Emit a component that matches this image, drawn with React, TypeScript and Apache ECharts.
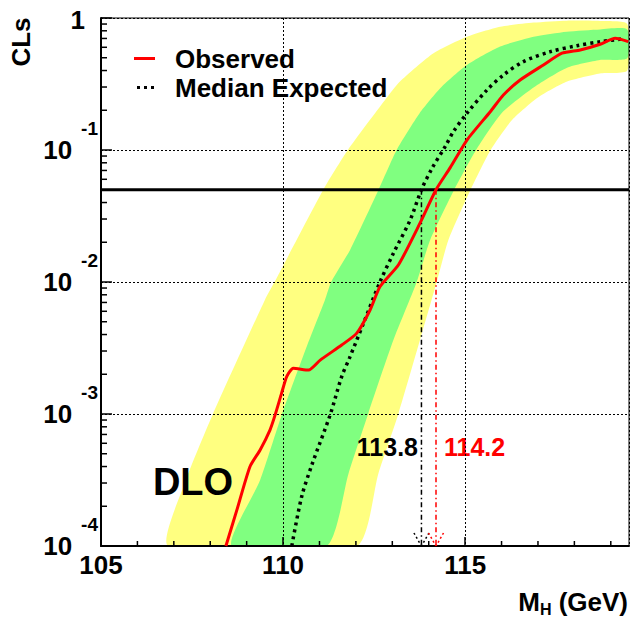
import React, { useEffect, useRef } from 'react';
import * as echarts from 'echarts';

const FONT = '"Liberation Sans", Arial, Helvetica, sans-serif';

// ---- data (x = M_H in GeV, y = CLs) ----
const observed: number[][] = [
  [108.43, 1.0e-4], [108.73, 1.87e-4], [109.09, 3.99e-4], [109.37, 5.34e-4], [109.64, 7.56e-4],
  [109.78, 9.8e-4], [109.96, 1.44e-3], [110.10, 1.92e-3], [110.28, 2.22e-3], [110.70, 2.15e-3],
  [111.02, 2.56e-3], [111.61, 3.33e-3], [112.02, 4.08e-3], [112.39, 6.14e-3], [112.66, 9.2e-3],
  [113.17, 1.35e-2], [113.76, 2.79e-2], [114.2, 0.05], [114.59, 0.0735], [115.05, 0.119],
  [115.69, 0.195], [116.05, 0.261], [116.51, 0.339], [117.15, 0.441], [117.66, 0.541],
  [118.16, 0.573], [118.71, 0.633], [119.12, 0.702], [119.48, 0.662],
];

const medianExpected: number[][] = [
  [110.24, 1.0e-4], [110.51, 2.36e-4], [110.79, 4.11e-4], [111.29, 9.8e-4], [111.61, 1.92e-3],
  [111.82, 2.64e-3], [112.2, 4.8e-3], [112.66, 1.0e-2], [113.03, 1.65e-2], [113.49, 2.95e-2],
  [113.8, 0.05], [114.09, 0.0726], [114.45, 0.106], [114.68, 0.138], [115.05, 0.190],
  [115.60, 0.285], [116.05, 0.370], [116.60, 0.467], [117.34, 0.556], [118.07, 0.617],
  [118.71, 0.661], [119.30, 0.693],
];

// +-2 sigma band (yellow)
const band2Upper: number[][] = [
  [106.85, 1.0e-4], [107.26, 2.81e-4], [108.06, 9.8e-4], [109.5, 7.31e-3], [109.8, 1.04e-2],
  [111.1, 0.0498], [111.78, 0.1], [112.80, 0.239], [113.21, 0.330], [114.13, 0.541],
  [115.05, 0.721], [115.96, 0.859], [116.88, 0.923], [117.79, 0.955], [118.71, 0.949], [119.45, 0.901],
];
const band2Lower: number[][] = [
  [112.02, 1.0e-4], [112.62, 3.56e-4], [113.17, 1.01e-3], [113.76, 3.63e-3], [114.22, 0.01],
  [114.54, 0.0208], [115.15, 0.05], [115.7, 0.1], [116.3, 0.17], [117.0, 0.25],
  [117.8, 0.33], [118.7, 0.38], [119.45, 0.40],
];

// +-1 sigma band (green)
const band1Upper: number[][] = [
  [108.59, 1.0e-4], [109.37, 3.16e-4], [109.96, 9.8e-4], [110.65, 3.24e-3], [111.15, 7.31e-3],
  [111.32, 0.01], [111.84, 0.0175], [112.62, 0.0498], [113.12, 0.1], [113.75, 0.19],
  [114.35, 0.30], [115.05, 0.44], [115.96, 0.607], [116.88, 0.721], [117.79, 0.787],
  [118.71, 0.820], [119.45, 0.820],
];
const band1Lower: number[][] = [
  [111.20, 1.0e-4], [111.80, 3.56e-4], [112.34, 1.01e-3], [113.03, 3.63e-3], [113.67, 0.01],
  [114.04, 0.0208], [114.70, 0.05], [115.30, 0.1], [116.0, 0.19], [116.9, 0.30],
  [117.8, 0.42], [118.7, 0.48], [119.45, 0.495],
];

const clsLevel = 0.05;
const limits = [
  { mass: 113.8, label: '113.8', color: '#000000' },
  { mass: 114.2, label: '114.2', color: '#ff0000' },
];

const xMin = 105;
const xMax = 119.5;
const xMajorTicks = [105, 110, 115];
const xMinorTicks = [106, 107, 108, 109, 111, 112, 113, 114, 116, 117, 118, 119];
const yMin = 1e-4;
const yMax = 1;
const yDecades = [-4, -3, -2, -1];
const yMinorMultipliers = [2, 3, 4, 5, 6, 7, 8, 9];

const YELLOW = '#ffff80';
const GREEN = '#80ff80';

function bandRenderer(upper: number[][], lower: number[][], color: string) {
  return (_params: any, api: any) => {
    const pts = upper.map((p) => api.coord(p)).concat(lower.slice().reverse().map((p) => api.coord(p)));
    return {
      type: 'polygon',
      shape: { points: pts, smooth: 0.2 },
      style: { fill: color, stroke: 'none' },
      silent: true,
    };
  };
}

export default function App() {
  const ref = useRef<HTMLDivElement>(null);

  useEffect(() => {
    if (!ref.current) return;
    const chart = echarts.init(ref.current, null, { renderer: 'svg' });

    const yMinorValues: number[] = [];
    yDecades.forEach((d) => yMinorMultipliers.forEach((k) => yMinorValues.push(k * Math.pow(10, d))));

    const option: any = {
      animation: false,
      backgroundColor: '#ffffff',
      grid: {
        left: 101, right: 2, top: 18, bottom: 73,
        show: true, borderColor: '#000', borderWidth: 1, backgroundColor: 'transparent',
      },
      legend: {
        orient: 'vertical', left: 134, top: 44, padding: 0, itemGap: 0,
        itemWidth: 36, itemHeight: 14, selectedMode: false,
        textStyle: { fontSize: 26, fontWeight: 'bold', color: '#000', fontFamily: FONT, lineHeight: 29 },
        data: [
          { name: 'Observed', icon: 'path://M0,0M36,14M0,5.5h21v3h-21z', itemStyle: { color: '#ff0000', borderWidth: 0 } },
          { name: 'Median Expected', icon: 'path://M0,0M36,14M3,5.5h3v3h-3zM10,5.5h3v3h-3zM17,5.5h3v3h-3z', itemStyle: { color: '#000', borderWidth: 0 } },
        ],
      },
      xAxis: {
        type: 'value', min: xMin, max: xMax, interval: 5,
        axisLine: { show: true, lineStyle: { color: '#000', width: 2 } },
        axisTick: { show: true, inside: true, length: 9, lineStyle: { color: '#000', width: 1.5 } },
        axisLabel: {
          show: true, margin: 6, color: '#000', fontSize: 26, fontWeight: 'bold', fontFamily: FONT,
          showMaxLabel: false,
          formatter: (v: number) => (xMajorTicks.indexOf(v) >= 0 ? String(v) : ''),
        },
        splitLine: { show: true, lineStyle: { color: '#000', width: 1, type: [2, 2] } },
      },
      yAxis: {
        type: 'log', logBase: 10, min: yMin, max: yMax, interval: 1,
        axisLine: { show: true, lineStyle: { color: '#000', width: 2 } },
        axisTick: { show: true, inside: true, length: 11, lineStyle: { color: '#000', width: 1.5 } },
        axisLabel: {
          show: true, margin: 3, color: '#000', fontFamily: FONT,
          formatter: (v: number) => {
            const e = Math.round(Math.log10(v));
            if (e === 0) return '{one|1}';
            return '{b|10}{e|' + e + '}';
          },
          rich: {
            one: { fontSize: 26, fontWeight: 'bold', fontFamily: FONT, color: '#000', padding: [4, 13, 0, 0] },
            b: { fontSize: 26, fontWeight: 'bold', fontFamily: FONT, color: '#000', lineHeight: 62 },
            e: { fontSize: 19, fontWeight: 'bold', fontFamily: FONT, color: '#000', lineHeight: 19, verticalAlign: 'top', padding: [0, 0, 0, 9] },
          },
        },
        splitLine: { show: true, lineStyle: { color: '#000', width: 1, type: [2, 2] } },
      },
      series: [
        {
          type: 'custom', name: 'band2', silent: true, clip: true, z: -2,
          renderItem: bandRenderer(band2Upper, band2Lower, YELLOW),
          data: [[112, 0.01]],
        },
        {
          type: 'custom', name: 'band1', silent: true, clip: true, z: -1,
          renderItem: bandRenderer(band1Upper, band1Lower, GREEN),
          data: [[112, 0.01]],
        },
        {
          type: 'custom', name: 'cls95', silent: true, clip: true, z: 3,
          renderItem: (_p: any, api: any) => {
            const a = api.coord([xMin, clsLevel]);
            const b = api.coord([xMax, clsLevel]);
            return { type: 'line', shape: { x1: a[0], y1: a[1], x2: b[0], y2: b[1] }, style: { stroke: '#000', lineWidth: 3 } };
          },
          data: [[112, clsLevel]],
        },
        {
          type: 'custom', name: 'limits', silent: true, clip: false, z: 3,
          renderItem: (_p: any, api: any) => {
            const children: any[] = [];
            limits.forEach((l) => {
              const top = api.coord([l.mass, clsLevel]);
              const bot = api.coord([l.mass, yMin]);
              children.push({ type: 'line', shape: { x1: top[0], y1: top[1], x2: bot[0], y2: bot[1] }, style: { stroke: l.color, lineWidth: 1.5, lineDash: [5, 3, 1.5, 3] } });
              children.push({ type: 'line', shape: { x1: bot[0] - 7.5, y1: bot[1] - 13, x2: bot[0], y2: bot[1] }, style: { stroke: l.color, lineWidth: 1.5, lineDash: [2, 2.5] } });
              children.push({ type: 'line', shape: { x1: bot[0] + 7.5, y1: bot[1] - 13, x2: bot[0], y2: bot[1] }, style: { stroke: l.color, lineWidth: 1.5, lineDash: [2, 2.5] } });
            });
            return { type: 'group', children };
          },
          data: [[112, clsLevel]],
        },
        {
          type: 'line', name: 'Median Expected', data: medianExpected, symbol: 'none', showSymbol: false,
          smooth: 0.3, z: 4, itemStyle: { color: '#000' },
          lineStyle: { color: '#000', width: 3.5, type: [3, 4] },
        },
        {
          type: 'line', name: 'Observed', data: observed, symbol: 'none', showSymbol: false,
          smooth: 0.2, z: 5, itemStyle: { color: '#ff0000' },
          lineStyle: { color: '#ff0000', width: 3 },
        },
        {
          type: 'custom', name: 'minorTicks', silent: true, clip: false, z: 6,
          renderItem: (_p: any, api: any) => {
            const children: any[] = [];
            yMinorValues.forEach((v) => {
              const p = api.coord([xMin, v]);
              children.push({ type: 'line', shape: { x1: p[0], y1: p[1], x2: p[0] + 6, y2: p[1] }, style: { stroke: '#000', lineWidth: 1.5 } });
            });
            xMinorTicks.forEach((v) => {
              const p = api.coord([v, yMin]);
              children.push({ type: 'line', shape: { x1: p[0], y1: p[1], x2: p[0], y2: p[1] - 5 }, style: { stroke: '#000', lineWidth: 1.5 } });
            });
            return { type: 'group', children };
          },
          data: [[112, 0.01]],
        },
      ],
      graphic: [
        {
          type: 'text', x: 21, y: 42, rotation: Math.PI / 2, silent: true,
          style: { text: 'CLs', fill: '#000', fontSize: 26, fontWeight: 'bold', fontFamily: FONT, align: 'center', verticalAlign: 'middle' },
        },
        {
          type: 'text', x: 628, y: 602, silent: true,
          style: {
            text: '{m|M}{h|H}{m| (GeV)}', align: 'right', verticalAlign: 'middle',
            rich: {
              m: { fontSize: 26, fontWeight: 'bold', fontFamily: FONT, fill: '#000', lineHeight: 30 },
              h: { fontSize: 16, fontWeight: 'bold', fontFamily: FONT, fill: '#000', lineHeight: 14, verticalAlign: 'bottom' },
            },
          },
        },
        {
          type: 'text', x: 193, y: 482, silent: true,
          style: { text: 'DLO', fill: '#000', fontSize: 38, fontWeight: 'bold', fontFamily: FONT, align: 'center', verticalAlign: 'middle' },
        },
        {
          type: 'text', x: 418, y: 447, silent: true,
          style: { text: limits[0].label, fill: limits[0].color, fontSize: 25, fontWeight: 'bold', fontFamily: FONT, align: 'right', verticalAlign: 'middle' },
        },
        {
          type: 'text', x: 444, y: 447, silent: true,
          style: { text: limits[1].label, fill: limits[1].color, fontSize: 25, fontWeight: 'bold', fontFamily: FONT, align: 'left', verticalAlign: 'middle' },
        },
      ],
    };

    chart.setOption(option);
    return () => chart.dispose();
  }, []);

  return (
    <div
      ref={ref}
      style={{ position: 'absolute', left: 0, top: 0, width: 631, height: 619, background: '#fff' }}
    />
  );
}
